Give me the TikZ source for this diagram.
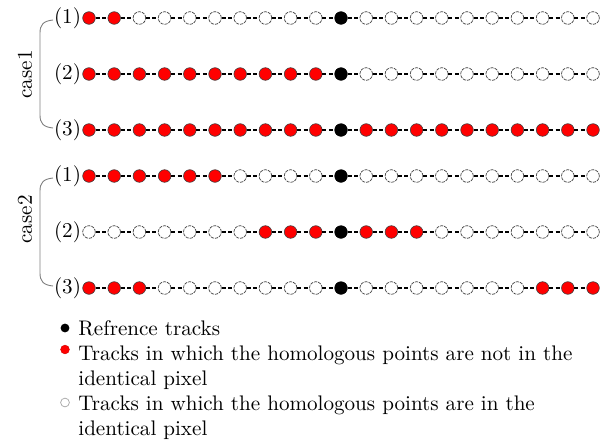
\documentclass[tikz,border=0pt]{standalone}
\usetikzlibrary{calc}
\tikzset{
  every node/.style={font=\fontsize{10.55}{12.7}\selectfont},
  rdot/.style={circle,inner sep=0pt,minimum size=6.3pt,fill=red,draw=black!75,line width=0.3pt},
  bdot/.style={circle,inner sep=0pt,minimum size=6.3pt,fill=black,draw=black,line width=0.3pt},
  wdot/.style={circle,inner sep=0pt,minimum size=6.3pt,fill=white,draw=black!75,line width=0.35pt,dash pattern=on 1.6pt off 0.5pt},
  trackline/.style={draw=black,line width=1pt,dash pattern=on 2pt off 1.2pt},
  bracketline/.style={draw=black!50,line width=0.45pt},
  rowlabel/.style={inner sep=0pt},
  legtext/.style={anchor=base west,inner sep=0pt},
  legdot/.style={circle,inner sep=0pt,minimum size=4.4pt},
}
\newcommand{\trackrow}[3]{%
  \foreach \s [count=\i from 0] in {#3} {\node[\s] (#1-\i) at ({89+25.2*\i},#2) {};}
  \foreach \i [evaluate=\i as \j using int(\i+1)] in {0,...,19} {\draw[trackline] (#1-\i) -- (#1-\j);}
}
\begin{document}
\begin{tikzpicture}[x=0.5pt,y=-0.5pt]
\useasboundingbox (0,0) rectangle (608,439);

% case 1
\trackrow{ca}{18}{rdot,rdot,wdot,wdot,wdot,wdot,wdot,wdot,wdot,wdot,bdot,wdot,wdot,wdot,wdot,wdot,wdot,wdot,wdot,wdot,wdot}
\trackrow{cb}{74}{rdot,rdot,rdot,rdot,rdot,rdot,rdot,rdot,rdot,rdot,bdot,wdot,wdot,wdot,wdot,wdot,wdot,wdot,wdot,wdot,wdot}
\trackrow{cc}{130}{rdot,rdot,rdot,rdot,rdot,rdot,rdot,rdot,rdot,rdot,bdot,rdot,rdot,rdot,rdot,rdot,rdot,rdot,rdot,rdot,rdot}
% case 2
\trackrow{da}{176}{rdot,rdot,rdot,rdot,rdot,rdot,wdot,wdot,wdot,wdot,bdot,wdot,wdot,wdot,wdot,wdot,wdot,wdot,wdot,wdot,wdot}
\trackrow{db}{232}{wdot,wdot,wdot,wdot,wdot,wdot,wdot,rdot,rdot,rdot,bdot,rdot,rdot,rdot,wdot,wdot,wdot,wdot,wdot,wdot,wdot}
\trackrow{dc}{288}{rdot,rdot,rdot,wdot,wdot,wdot,wdot,wdot,wdot,wdot,bdot,wdot,wdot,wdot,wdot,wdot,wdot,wdot,rdot,rdot,rdot}

% row labels
\node[rowlabel] (la) at (67.5,18) {(1)};
\node[rowlabel] (lb) at (67.5,74) {(2)};
\node[rowlabel] (lc) at (67.5,130) {(3)};
\node[rowlabel] (ma) at (67.5,176) {(1)};
\node[rowlabel] (mb) at (67.5,232) {(2)};
\node[rowlabel] (mc) at (67.5,288) {(3)};

% brackets
\coordinate (ka) at (53,20);
\coordinate (kc) at (53,128);
\coordinate (na) at (53,178);
\coordinate (nc) at (53,286);
\draw[bracketline] (ka) .. controls (43,21) and (40,25) .. (40,33) -- (40,115) .. controls (40,123) and (43,127) .. (kc);
\draw[bracketline] (na) .. controls (43,179) and (40,183) .. (40,191) -- (40,273) .. controls (40,281) and (43,285) .. (nc);

% case labels
\node[rotate=90,inner sep=0pt] (case1) at (25,74.5) {case1};
\node[rotate=90,inner sep=0pt] (case2) at (25,219.5) {case2};

% legend
\node[legdot,fill=black] (lg1) at (65,328) {};
\node[legdot,fill=red,draw=red!80!black,line width=0.2pt] (lg2) at (65,349.5) {};
\node[legdot,fill=white,draw=black!35,line width=0.35pt] (lg3) at (65,402.5) {};
\node[legtext] (t1) at (78,335) {Refrence tracks};
\node[legtext] (t2) at (78,360) {Tracks in which the homologous points are not in the};
\node[legtext] (t2b) at (78,385.5) {identical pixel};
\node[legtext] (t3) at (78,410) {Tracks in which the homologous points are in the};
\node[legtext] (t3b) at (78,435) {identical pixel};
\end{tikzpicture}
\end{document}
